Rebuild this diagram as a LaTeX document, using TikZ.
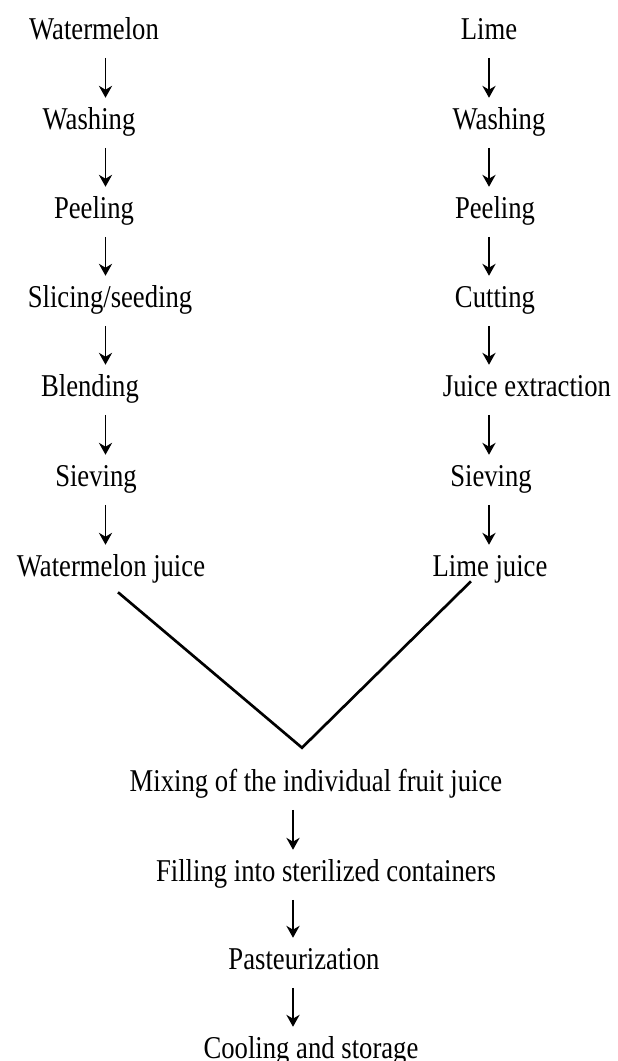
\documentclass[tikz,border=0pt]{standalone}
\usepackage{fontspec}
\setmainfont{Liberation Serif}
\usepackage{graphicx}
\usetikzlibrary{arrows.meta,calc}
\newcommand{\vtext}[1]{\scalebox{1}[1.19]{#1}}

\begin{document}
\begin{tikzpicture}[x=0.75pt,y=0.75pt,yscale=-1,xscale=1,
  stage/.style={anchor=base,inner sep=0pt,text height=15.75pt,text depth=0pt,font=\fontsize{20}{24}\selectfont},
  flow/.style={line width=0.9pt,-{Stealth[length=9pt,width=10pt,inset=3pt]},shorten <=14pt,shorten >=7.5pt},
  merge/.style={line width=2pt}]
%set diagram size
\useasboundingbox (0,0) rectangle (618,1061);

% arrow columns
\coordinate (lx) at (105.5,0);
\coordinate (rx) at (489,0);
\coordinate (mx) at (293,0);

% Text Node: watermelon line
\node[stage] (wm) at (94,39) {\vtext{Watermelon}};
\node[stage] (wwash) at (89,129) {\vtext{Washing}};
\node[stage] (wpeel) at (94,218) {\vtext{Peeling}};
\node[stage] (wslice) at (110,307) {\vtext{Slicing/seeding}};
\node[stage] (wblend) at (90,396) {\vtext{Blending}};
\node[stage] (wsieve) at (96,486) {\vtext{Sieving}};
\node[stage] (wjuice) at (111,576) {\vtext{Watermelon juice}};

% Text Node: lime line
\node[stage] (lime) at (489,39) {\vtext{Lime}};
\node[stage] (lwash) at (499,129) {\vtext{Washing}};
\node[stage] (lpeel) at (495,218) {\vtext{Peeling}};
\node[stage] (lcut) at (495,307) {\vtext{Cutting}};
\node[stage] (lextract) at (527,396) {\vtext{Juice extraction}};
\node[stage] (lsieve) at (491,486) {\vtext{Sieving}};
\node[stage] (ljuice) at (490,576) {\vtext{Lime juice}};

% Text Node: common line
\node[stage] (mix) at (316,791) {\vtext{Mixing of the individual fruit juice}};
\node[stage] (fill) at (326,881) {\vtext{Filling into sterilized containers}};
\node[stage] (pasteur) at (304,969) {\vtext{Pasteurization}};
\node[stage] (cool) at (311,1058) {\vtext{Cooling and storage}};

% Arrows
\foreach \a/\b in {wm/wwash,wwash/wpeel,wpeel/wslice,wslice/wblend,wblend/wsieve,wsieve/wjuice}
  \draw[flow] (\a.south -| lx) -- (\b.north -| lx);
\foreach \a/\b in {lime/lwash,lwash/lpeel,lpeel/lcut,lcut/lextract,lextract/lsieve,lsieve/ljuice}
  \draw[flow] (\a.south -| rx) -- (\b.north -| rx);
\foreach \a/\b in {mix/fill,fill/pasteur,pasteur/cool}
  \draw[flow] (\a.south -| mx) -- (\b.north -| mx);

%Straight Lines: joining the juices
\draw[merge] ($(wjuice.south)+(7,16)$) -- ($(mix.north)+(-14,-22)$) -- ($(ljuice.south)+(-19,5)$);

\end{tikzpicture}
\end{document}
